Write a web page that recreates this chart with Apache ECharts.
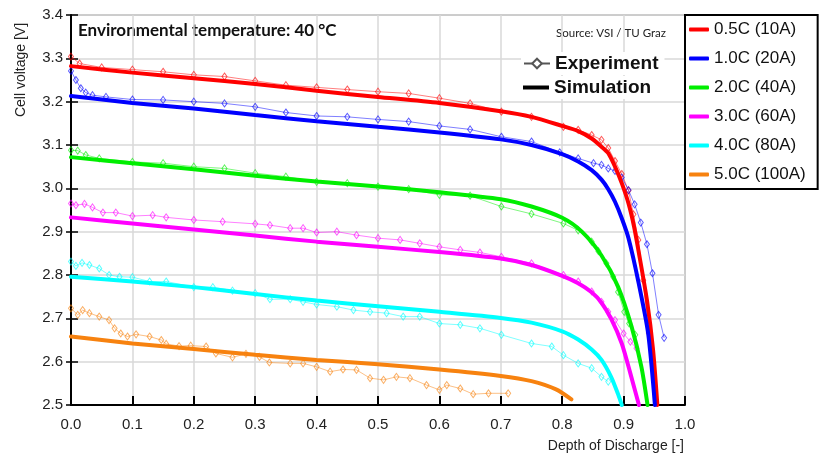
<!DOCTYPE html>
<html>
<head>
<meta charset="utf-8">
<title>Cell voltage vs depth of discharge, 40 °C</title>
<script src="https://cdn.jsdelivr.net/npm/echarts@6/dist/echarts.min.js"></script>
<style>
  html, body { margin: 0; padding: 0; background: #fff; }
  #chart { width: 822px; height: 457px; }
</style>
</head>
<body>
<div id="chart"></div>
<script>
// names shown in the right legend
const rates = ['0.5C (10A)', '1.0C (20A)', '2.0C (40A)', '3.0C (60A)', '4.0C (80A)', '5.0C (100A)'];
const colors = ['#ff0000', '#0000ff', '#00ee00', '#ff00ff', '#00ffff', '#f7820f'];

const xTicks = ['0.0', '0.1', '0.2', '0.3', '0.4', '0.5', '0.6', '0.7', '0.8', '0.9', '1.0'];
const yTicks = ['2.5', '2.6', '2.7', '2.8', '2.9', '3.0', '3.1', '3.2', '3.3', '3.4'];

// simulation curves [DoD, V]
const sim05 = [[0,3.282],[0.1,3.267],[0.2,3.254],[0.3,3.241],[0.4,3.225],[0.5,3.211],[0.6,3.197],[0.7,3.178],[0.75,3.165],[0.8,3.144],[0.826,3.132],[0.848,3.115],[0.864,3.096],[0.875,3.081],[0.886,3.05],[0.897,3.012],[0.908,2.965],[0.917,2.912],[0.924,2.858],[0.938,2.742],[0.948,2.627],[0.955,2.5]];
const sim10 = [[0,3.213],[0.1,3.197],[0.2,3.184],[0.3,3.169],[0.4,3.155],[0.5,3.142],[0.6,3.129],[0.7,3.113],[0.75,3.1],[0.8,3.079],[0.826,3.062],[0.848,3.042],[0.864,3.02],[0.875,2.998],[0.886,2.969],[0.897,2.931],[0.908,2.885],[0.924,2.785],[0.94,2.665],[0.951,2.5]];
const sim20 = [[0,3.072],[0.1,3.058],[0.2,3.044],[0.3,3.029],[0.4,3.016],[0.5,3.004],[0.6,2.991],[0.7,2.975],[0.75,2.958],[0.8,2.932],[0.832,2.9],[0.864,2.845],[0.891,2.773],[0.913,2.681],[0.929,2.588],[0.939,2.5]];
const sim30 = [[0,2.933],[0.1,2.919],[0.2,2.905],[0.3,2.891],[0.4,2.877],[0.5,2.865],[0.6,2.853],[0.7,2.838],[0.75,2.823],[0.8,2.798],[0.826,2.781],[0.848,2.76],[0.864,2.736],[0.88,2.698],[0.897,2.642],[0.911,2.573],[0.925,2.5]];
const sim40 = [[0,2.796],[0.1,2.785],[0.2,2.772],[0.3,2.756],[0.4,2.741],[0.5,2.728],[0.6,2.715],[0.7,2.701],[0.75,2.69],[0.8,2.67],[0.826,2.651],[0.848,2.628],[0.864,2.604],[0.88,2.564],[0.891,2.525],[0.897,2.5]];
const sim50 = [[0,2.658],[0.1,2.642],[0.2,2.629],[0.3,2.616],[0.4,2.604],[0.5,2.594],[0.6,2.582],[0.7,2.567],[0.75,2.555],[0.79,2.536],[0.815,2.513]];

// measured curves [DoD, V]
const exp05 = [[0,3.304],[0.014,3.288],[0.05,3.279],[0.1,3.274],[0.15,3.269],[0.2,3.262],[0.25,3.258],[0.3,3.248],[0.35,3.238],[0.4,3.233],[0.45,3.228],[0.5,3.223],[0.55,3.219],[0.6,3.208],[0.65,3.196],[0.701,3.177],[0.75,3.165],[0.802,3.142],[0.826,3.135],[0.848,3.123],[0.864,3.112],[0.875,3.093],[0.886,3.063],[0.897,3.033],[0.908,2.995],[0.916,2.94],[0.924,2.881],[0.932,2.788],[0.941,2.666]];
const exp10 = [[0,3.271],[0.008,3.25],[0.016,3.231],[0.024,3.221],[0.035,3.215],[0.057,3.211],[0.1,3.205],[0.15,3.204],[0.2,3.2],[0.25,3.196],[0.3,3.188],[0.35,3.175],[0.4,3.167],[0.45,3.165],[0.5,3.159],[0.55,3.154],[0.6,3.144],[0.65,3.136],[0.701,3.119],[0.75,3.108],[0.796,3.083],[0.826,3.069],[0.851,3.058],[0.864,3.054],[0.875,3.046],[0.886,3.04],[0.897,3.025],[0.908,2.996],[0.918,2.963],[0.928,2.921],[0.938,2.871],[0.947,2.804],[0.957,2.708],[0.966,2.655]];
const exp20 = [[0,3.088],[0.011,3.087],[0.024,3.077],[0.046,3.069],[0.1,3.061],[0.15,3.058],[0.2,3.05],[0.25,3.046],[0.3,3.035],[0.35,3.027],[0.4,3.015],[0.45,3.012],[0.5,3.004],[0.55,2.998],[0.6,2.985],[0.65,2.983],[0.701,2.958],[0.75,2.941],[0.802,2.919],[0.826,2.903],[0.848,2.877],[0.859,2.855],[0.872,2.827],[0.883,2.796],[0.891,2.761],[0.901,2.715],[0.909,2.688],[0.919,2.662]];
const exp30 = [[0,2.965],[0.008,2.961],[0.022,2.964],[0.035,2.956],[0.052,2.944],[0.073,2.944],[0.1,2.936],[0.133,2.938],[0.155,2.933],[0.2,2.927],[0.247,2.923],[0.3,2.918],[0.324,2.915],[0.357,2.908],[0.378,2.908],[0.4,2.898],[0.433,2.9],[0.465,2.892],[0.5,2.885],[0.536,2.881],[0.568,2.873],[0.6,2.865],[0.634,2.858],[0.666,2.852],[0.701,2.842],[0.75,2.827],[0.802,2.8],[0.826,2.785],[0.848,2.762],[0.864,2.738],[0.875,2.715],[0.886,2.696],[0.9,2.665],[0.911,2.646],[0.921,2.631]];
const exp40 = [[0,2.831],[0.008,2.821],[0.018,2.828],[0.03,2.823],[0.046,2.815],[0.062,2.8],[0.079,2.796],[0.1,2.795],[0.128,2.785],[0.155,2.785],[0.2,2.772],[0.231,2.772],[0.263,2.764],[0.3,2.758],[0.324,2.744],[0.357,2.744],[0.378,2.738],[0.4,2.732],[0.433,2.727],[0.46,2.719],[0.487,2.715],[0.514,2.712],[0.541,2.704],[0.568,2.704],[0.6,2.688],[0.634,2.685],[0.666,2.677],[0.701,2.662],[0.75,2.642],[0.783,2.635],[0.802,2.615],[0.826,2.596],[0.848,2.585],[0.864,2.565],[0.875,2.554]];
const exp50 = [[0,2.723],[0.011,2.708],[0.019,2.719],[0.03,2.712],[0.046,2.704],[0.062,2.696],[0.071,2.677],[0.081,2.665],[0.092,2.658],[0.106,2.663],[0.128,2.658],[0.147,2.65],[0.155,2.641],[0.176,2.636],[0.195,2.637],[0.22,2.635],[0.236,2.619],[0.263,2.61],[0.285,2.618],[0.307,2.611],[0.323,2.598],[0.357,2.596],[0.378,2.596],[0.4,2.588],[0.422,2.577],[0.443,2.582],[0.465,2.581],[0.487,2.562],[0.509,2.558],[0.53,2.565],[0.552,2.562],[0.579,2.546],[0.6,2.535],[0.612,2.546],[0.634,2.538],[0.655,2.525],[0.68,2.527],[0.712,2.527]];

const simData = [sim05, sim10, sim20, sim30, sim40, sim50];
const expData = [exp05, exp10, exp20, exp30, exp40, exp50];

const FONT = '"Liberation Sans", Arial, sans-serif';

const series = [];

// measurements underneath
expData.forEach((d, i) => {
  series.push({
    name: 'exp ' + rates[i],
    type: 'line',
    data: d,
    symbol: 'diamond',
    symbolSize: [5, 7],
    showAllSymbol: true,
    lineStyle: { color: colors[i], width: 1, opacity: 0.5 },
    itemStyle: { color: 'rgba(255,255,255,0)', borderColor: colors[i], borderWidth: 1, opacity: 0.65 },
    emphasis: { disabled: true },
    z: 2
  });
});

// simulation on top
simData.forEach((d, i) => {
  series.push({
    name: rates[i],
    type: 'line',
    data: d,
    symbol: 'none',
    smooth: 0.25,
    color: colors[i],
    lineStyle: { color: colors[i], width: 4, cap: 'round' },
    emphasis: { disabled: true },
    z: 3
  });
});

// dummies for the style legend
series.push({
  name: 'Experiment',
  type: 'line',
  data: [],
  symbol: 'diamond',
  symbolSize: [7, 9],
  color: '#555',
  lineStyle: { color: '#555', width: 1 },
  itemStyle: { color: '#fff', borderColor: '#555', borderWidth: 1 }
});
series.push({
  name: 'Simulation',
  type: 'line',
  data: [],
  symbol: 'none',
  color: '#000',
  lineStyle: { color: '#000', width: 4 }
});

const chart = echarts.init(document.getElementById('chart'), null, { renderer: 'canvas' });

chart.setOption({
  animation: false,
  backgroundColor: '#fff',
  grid: {
    left: 71, right: 137, top: 15, bottom: 52,
    show: true, borderColor: '#555', borderWidth: 1
  },
  xAxis: {
    type: 'value',
    min: 0, max: 1, interval: 0.1,
    axisLine: { lineStyle: { color: '#000', width: 2 } },
    axisTick: { inside: true, length: 9, lineStyle: { color: '#000', width: 2 } },
    axisLabel: {
      margin: 12, color: '#222', fontSize: 15, fontFamily: FONT,
      formatter: v => xTicks[Math.round(v * 10)]
    },
    splitLine: { lineStyle: { color: '#d9d9d9', width: 1.5 } }
  },
  yAxis: [{
    type: 'value',
    min: 2.5, max: 3.4, interval: 0.1,
    axisLine: { show: true, lineStyle: { color: '#000', width: 2 } },
    axisTick: { show: true, length: 5, lineStyle: { color: '#000', width: 1.5 } },
    axisLabel: {
      margin: 8, color: '#222', fontSize: 15, fontFamily: FONT,
      formatter: v => yTicks[Math.round((v - 2.5) * 10)]
    },
    splitLine: { lineStyle: { color: '#d9d9d9', width: 1.5 } }
  }, {
    // inside half of the crossing ticks
    type: 'value',
    position: 'left',
    min: 2.5, max: 3.4, interval: 0.1,
    axisLine: { show: false },
    axisTick: { show: true, inside: true, length: 7, lineStyle: { color: '#000', width: 1.5 } },
    axisLabel: { show: false },
    splitLine: { show: false }
  }],
  legend: [{
    data: rates.map(n => ({ name: n, icon: 'roundRect' })),
    orient: 'vertical',
    left: 685, top: 15,
    padding: [6, 12, 6, 4],
    itemGap: 12,
    itemWidth: 20, itemHeight: 4,
    borderColor: '#000', borderWidth: 2,
    backgroundColor: '#fff',
    selectedMode: false,
    textStyle: { fontSize: 17, color: '#111', fontFamily: FONT }
  }, {
    data: ['Experiment'],
    left: 521, top: 52,
    padding: [2, 6, 2, 2],
    itemWidth: 26, itemHeight: 12,
    backgroundColor: '#fff',
    selectedMode: false,
    textStyle: { fontSize: 19, fontWeight: 'bold', color: '#111', fontFamily: FONT }
  }, {
    data: [{ name: 'Simulation', icon: 'rect' }],
    left: 521, top: 76,
    padding: [2, 6, 2, 2],
    itemWidth: 26, itemHeight: 4,
    backgroundColor: '#fff',
    selectedMode: false,
    textStyle: { fontSize: 19, fontWeight: 'bold', color: '#111', fontFamily: FONT }
  }],
  graphic: [{
    type: 'text', left: 76, top: 21,
    style: {
      text: 'Environmental temperature: 40 °C',
      font: 'bold 17px Lato, "Open Sans", sans-serif', fill: '#111',
      backgroundColor: '#fff', padding: [1, 2, 1, 2]
    }
  }, {
    type: 'text', left: 556, top: 27,
    style: { text: 'Source: VSI / TU Graz', font: '11.5px Lato, "Open Sans", sans-serif', fill: '#222' }
  }, {
    type: 'text', x: 21, y: 70, rotation: Math.PI / 2,
    style: { text: 'Cell voltage [V]', font: '14px ' + FONT, fill: '#222', align: 'center', verticalAlign: 'middle' }
  }, {
    type: 'text', x: 684, y: 446,
    style: { text: 'Depth of Discharge [-]', font: '14px ' + FONT, fill: '#222', align: 'right', verticalAlign: 'middle' }
  }],
  series: series
});
</script>
</body>
</html>
